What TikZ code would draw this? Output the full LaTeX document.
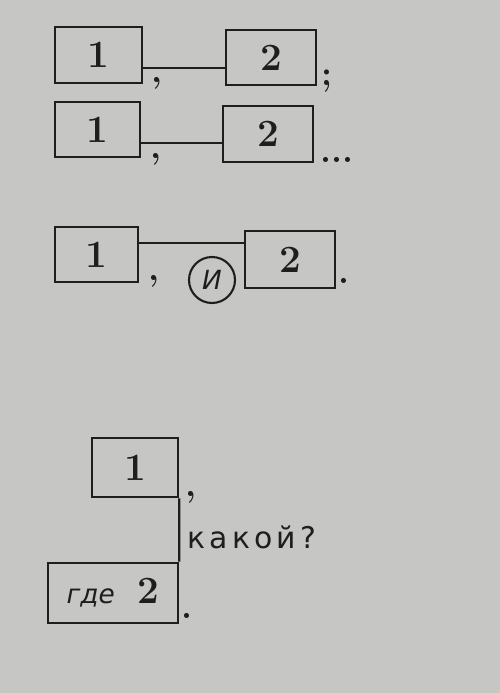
\documentclass[tikz,border=0pt]{standalone}
\usepackage{fontspec}
\newfontfamily\rufont{DejaVu Sans}
\newfontfamily\ruspaced[LetterSpace=14]{DejaVu Sans}
\definecolor{paper}{RGB}{198,198,196}
\definecolor{ink}{RGB}{30,30,30}

\begin{document}
\begin{tikzpicture}[x = 0.02cm, y = -0.02cm]
\tikzstyle{BoxStyle}=[draw = ink, line width = 1.5pt, text = ink,
							minimum width = 1.76cm,
							minimum height = 1.1cm,
							inner sep = 0pt,
							font = \fontsize{22}{22}\selectfont\bfseries]
\tikzstyle{MarkStyle}=[anchor = base west, inner sep = 0pt, text = ink,
							font = \fontsize{20}{20}\selectfont\bfseries]
\tikzstyle{LinkStyle}=[draw = ink, line width = 1.3pt]
\fill[paper] (0,0) rectangle (500,693);
\useasboundingbox (0,0) rectangle (500,693);
% first scheme
\node[BoxStyle, minimum width = 1.74cm, minimum height = 1.12cm] (b11) at (98.5,55) {1};
\node[BoxStyle, minimum width = 1.8cm] (b12) at (271,57.5) {2};
\draw[LinkStyle] ([yshift = -0.26cm]b11.east) -- ([yshift = -0.26cm]b11.east -| b12.west);
\node[MarkStyle] (c1) at (151,82) {,};
\node[MarkStyle] (p1) at (321,85) {;};
% second scheme
\node[BoxStyle, minimum width = 1.7cm] (b21) at (97.5,129.5) {1};
\node[BoxStyle, minimum width = 1.8cm, minimum height = 1.12cm] (b22) at (268,134) {2};
\draw[LinkStyle] ([yshift = -0.27cm]b21.east) -- ([yshift = -0.27cm]b21.east -| b22.west);
\node[MarkStyle] (c2) at (150,158) {,};
\node[MarkStyle] (p2) at (320,162) {...};
% third scheme
\node[BoxStyle, minimum width = 1.66cm] (b31) at (96.5,254.5) {1};
\node[BoxStyle, minimum width = 1.8cm, minimum height = 1.14cm] (b32) at (290,259.5) {2};
\draw[LinkStyle] ([yshift = 0.23cm]b31.east) -- ([yshift = 0.23cm]b31.east -| b32.west);
\node[MarkStyle] (c3) at (148,280) {,};
\node[draw = ink, circle, line width = 1.2pt, minimum size = 0.92cm, inner sep = 0pt,
	text = ink, font = \fontsize{15}{15}\rufont\itshape] (i3) at (212,280) {И};
\node[MarkStyle] (p3) at (338,283) {.};
% fourth scheme
\node[BoxStyle, minimum width = 1.72cm, minimum height = 1.18cm] (b41) at (135,467.5) {1};
\node[BoxStyle, minimum width = 2.6cm, minimum height = 1.2cm] (b42) at (113,593)
	{{\fontsize{15}{15}\rufont\mdseries\itshape где}\hspace{13pt}2};
\draw[LinkStyle] (b41.south east) -- (b42.north east);
\node[MarkStyle] (c4) at (185,496) {,};
\node[anchor = base west, inner sep = 0pt, text = ink,
	font = \fontsize{17}{17}\ruspaced] (q4) at (187,548) {какой?};
\node[MarkStyle] (p4) at (181,618) {.};
\end{tikzpicture}
\end{document}
